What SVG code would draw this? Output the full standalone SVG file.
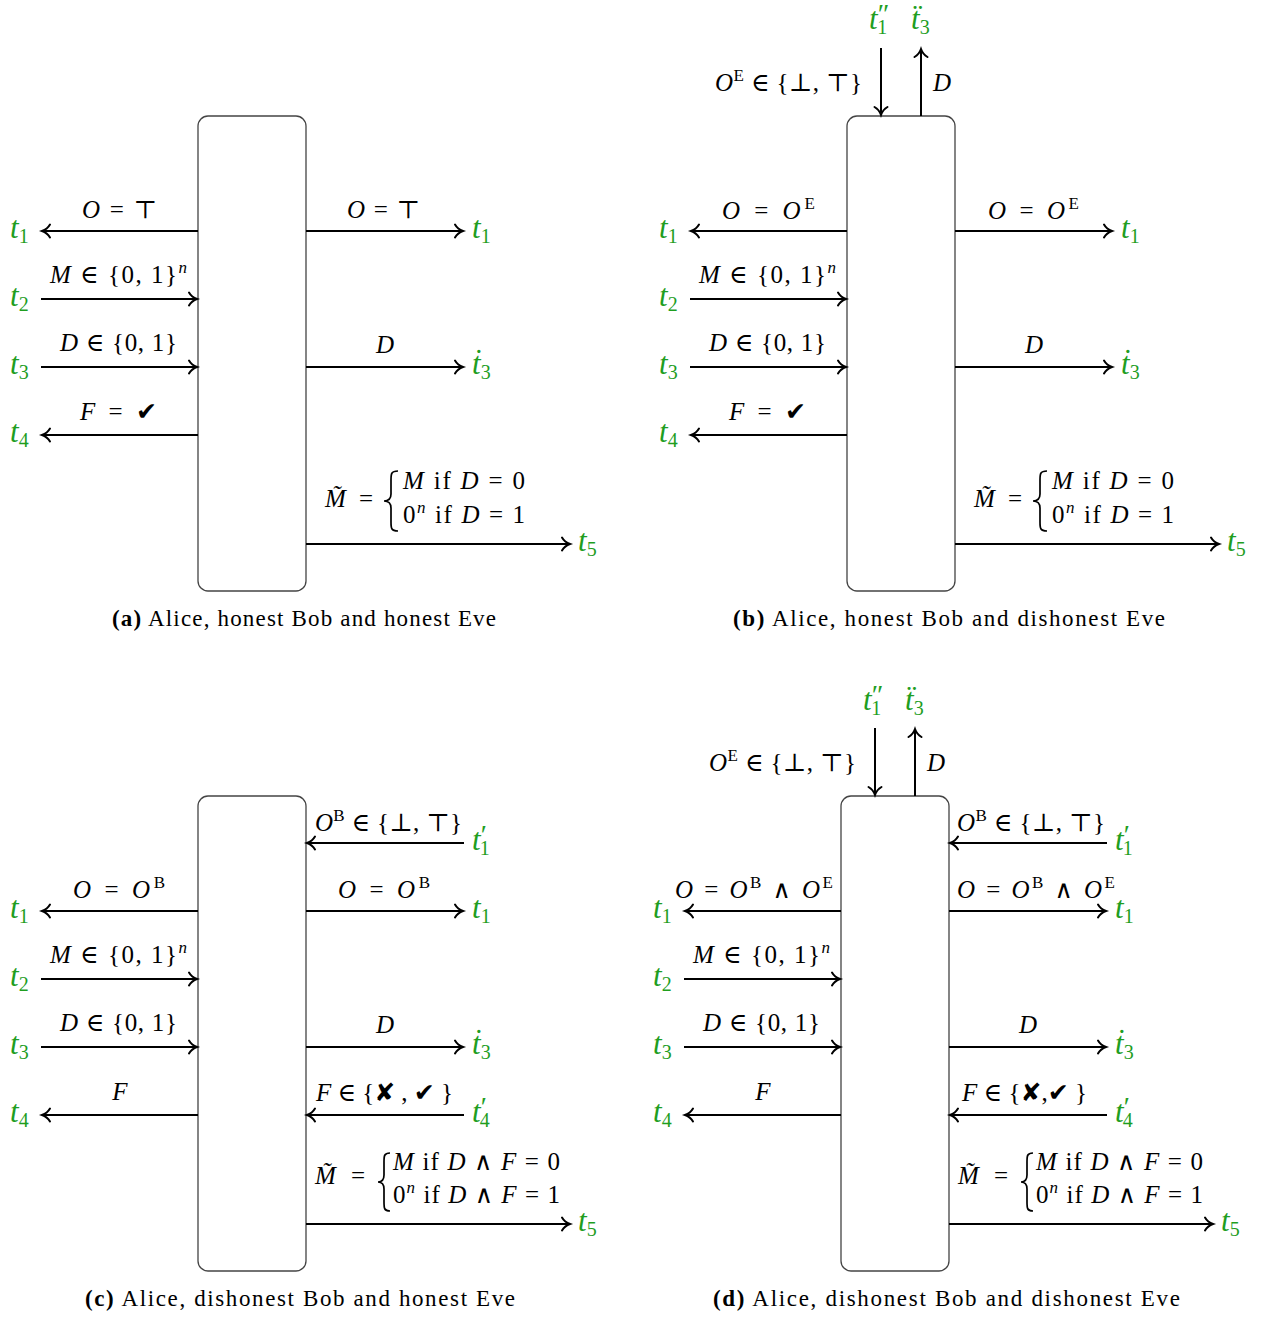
<svg xmlns="http://www.w3.org/2000/svg" width="1274" height="1321" viewBox="0 0 1274 1321">
<style>
.m{font-family:"Liberation Serif","DejaVu Serif",serif;font-size:25px;fill:#000}
.sup{font-size:17px;font-style:normal}
.i{font-style:italic}
.g{font-family:"Liberation Serif","DejaVu Serif",serif;font-size:31px;font-style:italic;fill:#1f9e1f}
.s{font-size:20px;font-style:normal}
.p{font-size:28px;font-style:normal}
.ck{font-family:"DejaVu Sans",sans-serif;font-size:25px}
.cap{font-family:"Liberation Serif","DejaVu Serif",serif;font-size:23px;fill:#000}
.b{font-weight:bold}
.box{fill:#fff;stroke:#444;stroke-width:1.3}
.ar{fill:none;stroke:#000;stroke-width:2;marker-end:url(#ah)}
.br{fill:none;stroke:#000;stroke-width:1.7}
</style>
<defs>
<marker id="ah" markerUnits="userSpaceOnUse" markerWidth="20" markerHeight="20" refX="0" refY="0" orient="auto" style="overflow:visible">
<path d="M-8,-6.5 C-6,-3 -2,-0.7 0,0 C-2,0.7 -6,3 -8,6.5" fill="none" stroke="#000" stroke-width="2" stroke-linecap="round"/>
</marker>
</defs>

<!-- Panel (a) -->
<g id="panel-a">
<g id="a-box" class="node"><rect class="box" x="198" y="116" width="108" height="475" rx="10"/></g>
<g id="a-connectors">
<path class="ar" d="M198,231 H42"/>
<path class="ar" d="M41,299 H197"/>
<path class="ar" d="M41,367 H197"/>
<path class="ar" d="M198,435 H42"/>
<path class="ar" d="M306,231 H463"/>
<path class="ar" d="M306,367 H463"/>
<path class="ar" d="M306,544 H570"/>
</g>
<g id="a-labels">
<text class="m" x="82" y="218" textLength="75"><tspan class="i">O</tspan> = ⊤</text>
<text class="m" x="50" y="283" textLength="137"><tspan class="i">M</tspan> ∈ {0, 1}<tspan class="sup i" dy="-10">n</tspan></text>
<text class="m" x="60" y="351" textLength="117"><tspan class="i">D</tspan> ∈ {0, 1}</text>
<text class="m" x="80" y="420" textLength="77"><tspan class="i">F</tspan> = <tspan class="ck">✔</tspan></text>
<text class="m" x="347" y="218" textLength="73"><tspan class="i">O</tspan> = ⊤</text>
<text class="m i" x="385" y="353" text-anchor="middle">D</text>
<text class="m" x="325" y="507" textLength="48"><tspan class="i">M̃</tspan> =</text>
<path class="br" d="M398,471 C391,471 391,474 391,480 L391,494 C391,499 388,501 384,501 C388,501 391,503 391,508 L391,522 C391,528 391,531 398,531"/>
<text class="m" x="403" y="489" textLength="122"><tspan class="i">M</tspan> if <tspan class="i">D</tspan> = 0</text>
<text class="m" x="403" y="523" textLength="122">0<tspan class="sup i" dy="-10">n</tspan><tspan dy="10"> if </tspan><tspan class="i">D</tspan> = 1</text>
</g>
<g id="a-terminals">
<text class="g" x="10" y="238">t<tspan class="s" dy="5">1</tspan></text>
<text class="g" x="10" y="306">t<tspan class="s" dy="5">2</tspan></text>
<text class="g" x="10" y="374">t<tspan class="s" dy="5">3</tspan></text>
<text class="g" x="10" y="442">t<tspan class="s" dy="5">4</tspan></text>
<text class="g" x="472" y="238">t<tspan class="s" dy="5">1</tspan></text>
<text class="g" x="472" y="374">ṫ<tspan class="s" dy="5">3</tspan></text>
<text class="g" x="578" y="551">t<tspan class="s" dy="5">5</tspan></text>
</g>
<text class="cap" x="112" y="626" textLength="384"><tspan class="b">(a)</tspan> Alice, honest Bob and honest Eve</text>
</g>

<!-- Panel (b) -->
<g id="panel-b" transform="translate(649,0)">
<g id="b-box" class="node"><rect class="box" x="198" y="116" width="108" height="475" rx="10"/></g>
<g id="b-connectors">
<path class="ar" d="M198,231 H42"/>
<path class="ar" d="M41,299 H197"/>
<path class="ar" d="M41,367 H197"/>
<path class="ar" d="M198,435 H42"/>
<path class="ar" d="M306,231 H463"/>
<path class="ar" d="M306,367 H463"/>
<path class="ar" d="M306,544 H570"/>
<path class="ar" d="M232,48 V115"/>
<path class="ar" d="M272,116 V49"/>
</g>
<g id="b-labels">
<text class="m" x="66" y="91" textLength="147"><tspan class="i">O</tspan><tspan class="sup" dy="-10">E</tspan><tspan dy="10"> ∈ {⊥, ⊤}</tspan></text>
<text class="m i" x="284" y="91">D</text>
<text class="m" x="73" y="219" textLength="93"><tspan class="i">O</tspan> = <tspan class="i">O</tspan><tspan class="sup" dy="-10">E</tspan></text>
<text class="m" x="50" y="283" textLength="137"><tspan class="i">M</tspan> ∈ {0, 1}<tspan class="sup i" dy="-10">n</tspan></text>
<text class="m" x="60" y="351" textLength="117"><tspan class="i">D</tspan> ∈ {0, 1}</text>
<text class="m" x="80" y="420" textLength="77"><tspan class="i">F</tspan> = <tspan class="ck">✔</tspan></text>
<text class="m" x="339" y="219" textLength="91"><tspan class="i">O</tspan> = <tspan class="i">O</tspan><tspan class="sup" dy="-10">E</tspan></text>
<text class="m i" x="385" y="353" text-anchor="middle">D</text>
<text class="m" x="325" y="507" textLength="48"><tspan class="i">M̃</tspan> =</text>
<path class="br" d="M398,471 C391,471 391,474 391,480 L391,494 C391,499 388,501 384,501 C388,501 391,503 391,508 L391,522 C391,528 391,531 398,531"/>
<text class="m" x="403" y="489" textLength="122"><tspan class="i">M</tspan> if <tspan class="i">D</tspan> = 0</text>
<text class="m" x="403" y="523" textLength="122">0<tspan class="sup i" dy="-10">n</tspan><tspan dy="10"> if </tspan><tspan class="i">D</tspan> = 1</text>
</g>
<g id="b-terminals">
<text class="g" x="220" y="29">t<tspan class="p" dy="-6">″</tspan><tspan class="s" dx="-12" dy="11">1</tspan></text>
<text class="g" x="262" y="29">ẗ<tspan class="s" dy="5">3</tspan></text>
<text class="g" x="10" y="238">t<tspan class="s" dy="5">1</tspan></text>
<text class="g" x="10" y="306">t<tspan class="s" dy="5">2</tspan></text>
<text class="g" x="10" y="374">t<tspan class="s" dy="5">3</tspan></text>
<text class="g" x="10" y="442">t<tspan class="s" dy="5">4</tspan></text>
<text class="g" x="472" y="238">t<tspan class="s" dy="5">1</tspan></text>
<text class="g" x="472" y="374">ṫ<tspan class="s" dy="5">3</tspan></text>
<text class="g" x="578" y="551">t<tspan class="s" dy="5">5</tspan></text>
</g>
<text class="cap" x="84" y="626" textLength="432"><tspan class="b">(b)</tspan> Alice, honest Bob and dishonest Eve</text>
</g>

<!-- Panel (c) -->
<g id="panel-c" transform="translate(0,680)">
<g id="c-box" class="node"><rect class="box" x="198" y="116" width="108" height="475" rx="10"/></g>
<g id="c-connectors">
<path class="ar" d="M198,231 H42"/>
<path class="ar" d="M41,299 H197"/>
<path class="ar" d="M41,367 H197"/>
<path class="ar" d="M198,435 H42"/>
<path class="ar" d="M464,163 H307"/>
<path class="ar" d="M306,231 H463"/>
<path class="ar" d="M306,367 H463"/>
<path class="ar" d="M464,435 H307"/>
<path class="ar" d="M306,544 H570"/>
</g>
<g id="c-labels">
<text class="m" x="73" y="218" textLength="92"><tspan class="i">O</tspan> = <tspan class="i">O</tspan><tspan class="sup" dy="-10">B</tspan></text>
<text class="m" x="50" y="283" textLength="137"><tspan class="i">M</tspan> ∈ {0, 1}<tspan class="sup i" dy="-10">n</tspan></text>
<text class="m" x="60" y="351" textLength="117"><tspan class="i">D</tspan> ∈ {0, 1}</text>
<text class="m i" x="120" y="420" text-anchor="middle">F</text>
<text class="m" x="315" y="151" textLength="147"><tspan class="i">O</tspan><tspan class="sup" dy="-10">B</tspan><tspan dy="10"> ∈ {⊥, ⊤}</tspan></text>
<text class="m" x="338" y="218" textLength="92"><tspan class="i">O</tspan> = <tspan class="i">O</tspan><tspan class="sup" dy="-10">B</tspan></text>
<text class="m i" x="385" y="353" text-anchor="middle">D</text>
<text class="m" x="316" y="421" textLength="137"><tspan class="i">F</tspan> ∈ {<tspan class="ck">✘</tspan> , <tspan class="ck">✔</tspan> }</text>
<text class="m" x="315" y="504" textLength="50"><tspan class="i">M̃</tspan> =</text>
<path class="br" d="M390,473 C384,473 384,476 384,482 L384,495 C384,500 382,502 378,502 C382,502 384,504 384,509 L384,522 C384,528 384,531 390,531"/>
<text class="m" x="393" y="490" textLength="167"><tspan class="i">M</tspan> if <tspan class="i">D</tspan> ∧ <tspan class="i">F</tspan> = 0</text>
<text class="m" x="393" y="523" textLength="167">0<tspan class="sup i" dy="-10">n</tspan><tspan dy="10"> if </tspan><tspan class="i">D</tspan> ∧ <tspan class="i">F</tspan> = 1</text>
</g>
<g id="c-terminals">
<text class="g" x="10" y="238">t<tspan class="s" dy="5">1</tspan></text>
<text class="g" x="10" y="306">t<tspan class="s" dy="5">2</tspan></text>
<text class="g" x="10" y="374">t<tspan class="s" dy="5">3</tspan></text>
<text class="g" x="10" y="442">t<tspan class="s" dy="5">4</tspan></text>
<text class="g" x="472" y="170">t<tspan class="p" dy="-6">′</tspan><tspan class="s" dx="-7" dy="11">1</tspan></text>
<text class="g" x="472" y="238">t<tspan class="s" dy="5">1</tspan></text>
<text class="g" x="472" y="374">ṫ<tspan class="s" dy="5">3</tspan></text>
<text class="g" x="472" y="442">t<tspan class="p" dy="-6">′</tspan><tspan class="s" dx="-7" dy="11">4</tspan></text>
<text class="g" x="578" y="551">t<tspan class="s" dy="5">5</tspan></text>
</g>
<text class="cap" x="85" y="626" textLength="430"><tspan class="b">(c)</tspan> Alice, dishonest Bob and honest Eve</text>
</g>

<!-- Panel (d) -->
<g id="panel-d" transform="translate(643,680)">
<g id="d-box" class="node"><rect class="box" x="198" y="116" width="108" height="475" rx="10"/></g>
<g id="d-connectors">
<path class="ar" d="M198,231 H42"/>
<path class="ar" d="M41,299 H197"/>
<path class="ar" d="M41,367 H197"/>
<path class="ar" d="M198,435 H42"/>
<path class="ar" d="M464,163 H307"/>
<path class="ar" d="M306,231 H463"/>
<path class="ar" d="M306,367 H463"/>
<path class="ar" d="M464,435 H307"/>
<path class="ar" d="M306,544 H570"/>
<path class="ar" d="M232,48 V115"/>
<path class="ar" d="M272,116 V49"/>
</g>
<g id="d-labels">
<text class="m" x="66" y="91" textLength="147"><tspan class="i">O</tspan><tspan class="sup" dy="-10">E</tspan><tspan dy="10"> ∈ {⊥, ⊤}</tspan></text>
<text class="m i" x="284" y="91">D</text>
<text class="m" x="32" y="218" textLength="158"><tspan class="i">O</tspan> = <tspan class="i">O</tspan><tspan class="sup" dy="-10">B</tspan><tspan dy="10"> ∧ </tspan><tspan class="i">O</tspan><tspan class="sup" dy="-10">E</tspan></text>
<text class="m" x="50" y="283" textLength="137"><tspan class="i">M</tspan> ∈ {0, 1}<tspan class="sup i" dy="-10">n</tspan></text>
<text class="m" x="60" y="351" textLength="117"><tspan class="i">D</tspan> ∈ {0, 1}</text>
<text class="m i" x="120" y="420" text-anchor="middle">F</text>
<text class="m" x="314" y="151" textLength="148"><tspan class="i">O</tspan><tspan class="sup" dy="-10">B</tspan><tspan dy="10"> ∈ {⊥, ⊤}</tspan></text>
<text class="m" x="314" y="218" textLength="158"><tspan class="i">O</tspan> = <tspan class="i">O</tspan><tspan class="sup" dy="-10">B</tspan><tspan dy="10"> ∧ </tspan><tspan class="i">O</tspan><tspan class="sup" dy="-10">E</tspan></text>
<text class="m i" x="385" y="353" text-anchor="middle">D</text>
<text class="m" x="319" y="421" textLength="125"><tspan class="i">F</tspan> ∈ {<tspan class="ck">✘</tspan>,<tspan class="ck">✔</tspan> }</text>
<text class="m" x="315" y="504" textLength="50"><tspan class="i">M̃</tspan> =</text>
<path class="br" d="M390,473 C384,473 384,476 384,482 L384,495 C384,500 382,502 378,502 C382,502 384,504 384,509 L384,522 C384,528 384,531 390,531"/>
<text class="m" x="393" y="490" textLength="167"><tspan class="i">M</tspan> if <tspan class="i">D</tspan> ∧ <tspan class="i">F</tspan> = 0</text>
<text class="m" x="393" y="523" textLength="167">0<tspan class="sup i" dy="-10">n</tspan><tspan dy="10"> if </tspan><tspan class="i">D</tspan> ∧ <tspan class="i">F</tspan> = 1</text>
</g>
<g id="d-terminals">
<text class="g" x="220" y="30">t<tspan class="p" dy="-6">″</tspan><tspan class="s" dx="-12" dy="11">1</tspan></text>
<text class="g" x="262" y="30">ẗ<tspan class="s" dy="5">3</tspan></text>
<text class="g" x="10" y="238">t<tspan class="s" dy="5">1</tspan></text>
<text class="g" x="10" y="306">t<tspan class="s" dy="5">2</tspan></text>
<text class="g" x="10" y="374">t<tspan class="s" dy="5">3</tspan></text>
<text class="g" x="10" y="442">t<tspan class="s" dy="5">4</tspan></text>
<text class="g" x="472" y="170">t<tspan class="p" dy="-6">′</tspan><tspan class="s" dx="-7" dy="11">1</tspan></text>
<text class="g" x="472" y="238">t<tspan class="s" dy="5">1</tspan></text>
<text class="g" x="472" y="374">ṫ<tspan class="s" dy="5">3</tspan></text>
<text class="g" x="472" y="442">t<tspan class="p" dy="-6">′</tspan><tspan class="s" dx="-7" dy="11">4</tspan></text>
<text class="g" x="578" y="551">t<tspan class="s" dy="5">5</tspan></text>
</g>
<text class="cap" x="70" y="626" textLength="467"><tspan class="b">(d)</tspan> Alice, dishonest Bob and dishonest Eve</text>
</g>
</svg>
